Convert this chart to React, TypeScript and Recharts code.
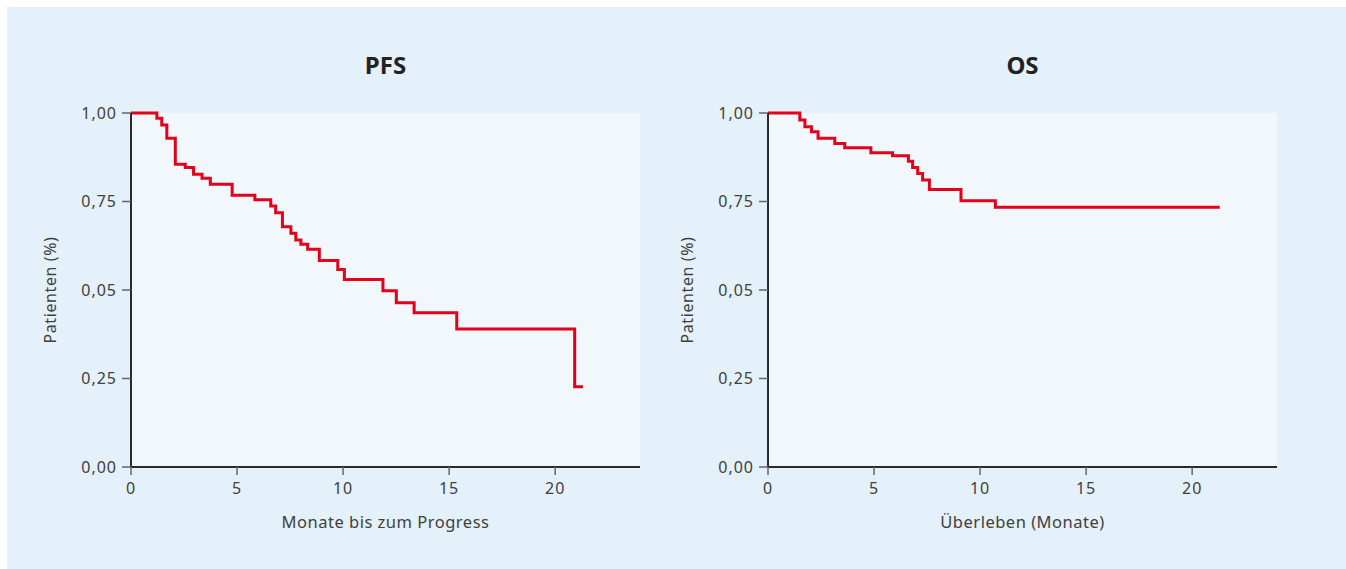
import { LineChart, Line, XAxis, YAxis, CartesianGrid } from 'recharts';

// Kaplan-Meier steps (months, fraction)
const PFS_MONTHS = [0, 1.22, 1.45, 1.69, 2.09, 2.56, 2.95, 3.35, 3.74, 4.77, 5.84, 6.59, 6.82, 7.14, 7.54, 7.77, 8.01, 8.33, 8.88, 9.75, 10.06, 11.88, 12.51, 13.35, 15.36, 20.92, 21.31];
const PFS_SURVIVAL = [1.0, 0.985, 0.966, 0.929, 0.855, 0.846, 0.827, 0.816, 0.799, 0.768, 0.755, 0.737, 0.718, 0.679, 0.66, 0.641, 0.629, 0.615, 0.583, 0.558, 0.53, 0.498, 0.464, 0.436, 0.39, 0.227, 0.227];

const OS_MONTHS = [0, 1.5, 1.74, 2.05, 2.36, 3.15, 3.62, 4.85, 5.87, 6.62, 6.82, 7.06, 7.29, 7.61, 9.1, 10.72, 21.3];
const OS_SURVIVAL = [1.0, 0.98, 0.961, 0.947, 0.929, 0.914, 0.902, 0.888, 0.879, 0.864, 0.846, 0.829, 0.811, 0.784, 0.752, 0.734, 0.734];

const X_TICKS = [0, 5, 10, 15, 20];
const Y_TICKS = [0, 0.25, 0.5, 0.75, 1];
// the original figure labels the middle tick "0,05"
const Y_TICK_LABELS = ['0,00', '0,25', '0,05', '0,75', '1,00'];

const FONT = "'Noto Sans', sans-serif";
const RED = '#e2001a';
const AXIS = '#2a2a2a';
const TEXT = '#404040';

const W = 660;
const H = 562;

function YLabel({ viewBox }: any) {
  const cx = viewBox.x + 19;
  const cy = viewBox.y + viewBox.height / 2;
  return (
    <text
      x={cx}
      y={cy}
      transform={`rotate(-90 ${cx} ${cy})`}
      textAnchor="middle"
      dominantBaseline="central"
      fill={TEXT}
      fontSize={16}
      letterSpacing={0.6}
      fontFamily={FONT}
    >
      Patienten (%)
    </text>
  );
}

interface PanelProps {
  title: string;
  xLabel: string;
  months: number[];
  survival: number[];
}

function KMPanel({ title, xLabel, months, survival }: PanelProps) {
  const data = months.map((t, i) => ({ t, s: survival[i] }));
  return (
    <div style={{ position: 'relative', width: W, height: H }}>
      <div
        style={{
          position: 'absolute', left: 124, width: 509, top: 43, textAlign: 'center',
          fontFamily: FONT, fontWeight: 700, fontSize: 24, color: '#222', lineHeight: '30px',
        }}
      >
        {title}
      </div>
      <LineChart width={W} height={H} data={data} margin={{ top: 106, right: 27, bottom: 72, left: 24 }}>
        <CartesianGrid horizontal={false} vertical={false} fill="#f2f7fc" />
        <XAxis
          dataKey="t"
          type="number"
          domain={[0, 24]}
          ticks={X_TICKS}
          allowDataOverflow
          height={30}
          axisLine={{ stroke: AXIS, strokeWidth: 2 }}
          tickLine={{ stroke: '#666', strokeWidth: 1.5 }}
          tickSize={8}
          tickMargin={8}
          tick={{ fill: TEXT, fontSize: 16, fontFamily: FONT, letterSpacing: 1 }}
          label={{ value: xLabel, position: 'bottom', offset: 19, fill: TEXT, fontSize: 16.5, fontFamily: FONT, letterSpacing: 0.5 }}
        />
        <YAxis
          type="number"
          domain={[0, 1]}
          ticks={Y_TICKS}
          width={100}
          axisLine={{ stroke: AXIS, strokeWidth: 2 }}
          tickLine={{ stroke: '#666', strokeWidth: 1.5 }}
          tickSize={9}
          tickMargin={5}
          tick={{ fill: TEXT, fontSize: 16, fontFamily: FONT, letterSpacing: 1 }}
          tickFormatter={(v: number) => Y_TICK_LABELS[Y_TICKS.indexOf(v)]}
          label={<YLabel />}
        />
        <Line
          type="stepAfter"
          dataKey="s"
          stroke={RED}
          strokeWidth={3}
          dot={false}
          activeDot={false}
          isAnimationActive={false}
        />
      </LineChart>
    </div>
  );
}

export default function App() {
  return (
    <div
      style={{
        position: 'absolute', left: 7, top: 7, width: 1339, height: 562,
        background: '#e4f0fa', overflow: 'hidden',
      }}
    >
      <div style={{ position: 'absolute', left: 0, top: 0 }}>
        <KMPanel title="PFS" xLabel="Monate bis zum Progress" months={PFS_MONTHS} survival={PFS_SURVIVAL} />
      </div>
      <div style={{ position: 'absolute', left: 637, top: 0 }}>
        <KMPanel title="OS" xLabel="Überleben (Monate)" months={OS_MONTHS} survival={OS_SURVIVAL} />
      </div>
    </div>
  );
}
